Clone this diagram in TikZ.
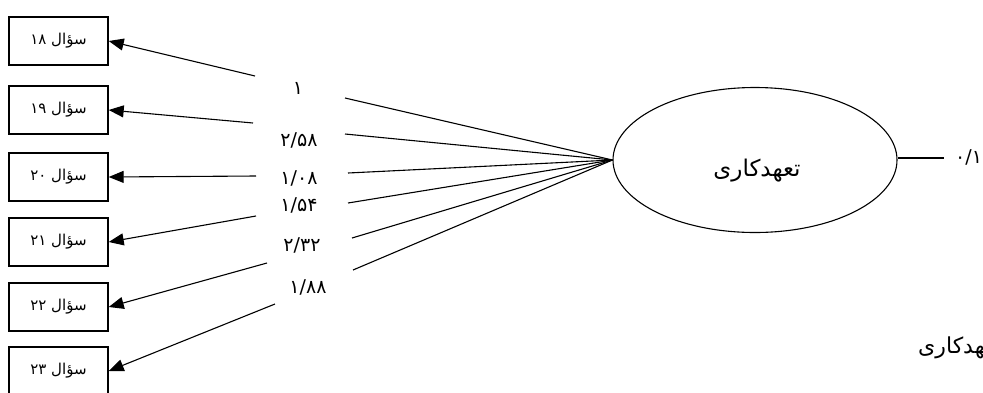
\documentclass[tikz,border=0pt]{standalone}
\usepackage{fontspec}
\usetikzlibrary{shapes.geometric,arrows.meta}
\newfontfamily\farsi[Script=Arabic]{DejaVu Sans}
\TeXXeTstate=1
\tikzset{
    qbox/.style={draw,line width=1.4pt,minimum width=99pt,minimum height=48pt,
        inner sep=0pt,font=\farsi\fontsize{15}{17}\selectfont},
    coef/.style={inner sep=0pt,font=\farsi\fontsize{19}{21}\selectfont},
    toq/.style={line width=1.1pt,-{Triangle[length=15pt,width=12pt]}},
    load/.style={line width=1.1pt},
}
\newcommand{\qlabel}[1]{\beginR سؤال #1\endR}

\begin{document}
\begin{tikzpicture}[x=1pt,y=-1pt]
    \useasboundingbox (0,0) rectangle (983,392);
    % latent variable
    \node[draw,ellipse,line width=1.1pt,minimum width=284pt,minimum height=145pt]
        (latent) at (755,160) {};
    \node[font=\farsi\fontsize{23}{26}\selectfont] (latname) at (757,171)
        {\beginR تعهدکاری\endR};
    % question boxes
    \foreach \y/\n/\name in {41/۱۸/q1,110/۱۹/q2,177/۲۰/q3,242/۲۱/q4,307/۲۲/q5,371/۲۳/q6}
        \node[qbox] (\name) at (58.5,\y) {\qlabel{\n}};
    % loadings
    \foreach \x/\y/\v/\name in {298/88/{۱}/c1,299/140/{۲/۵۸}/c2,299/178/{۱/۰۸}/c3,
                                299/205/{۱/۵۴}/c4,302/245/{۲/۳۲}/c5,308/287/{۱/۸۸}/c6}
        \node[coef] (\name) at (\x,\y) {\v};
    % free ends of the paths
    \foreach \ax/\ay/\bx/\by/\i in {255/76/345/98/1,253/123/345/134/2,256/176/348/173/3,
                                    256/216/348/203/4,267/263/352/238/5,275/304/353/270/6}{
        \coordinate (a\i) at (\ax,\ay);
        \coordinate (b\i) at (\bx,\by);
        \draw[toq] (a\i) -- (q\i.east);
        \draw[load] (b\i) -- (latent.west);
    }
    % error term
    \coordinate (e) at (944,158);
    \draw[load] (latent.east |- e) -- (e);
    \node[coef,anchor=west] (err) at (955,157) {۰/۱};
    \node[coef,anchor=west,font=\farsi\fontsize{22}{25}\selectfont] (cap) at (918,348)
        {\beginR تعهدکاری\endR};
\end{tikzpicture}
\end{document}
